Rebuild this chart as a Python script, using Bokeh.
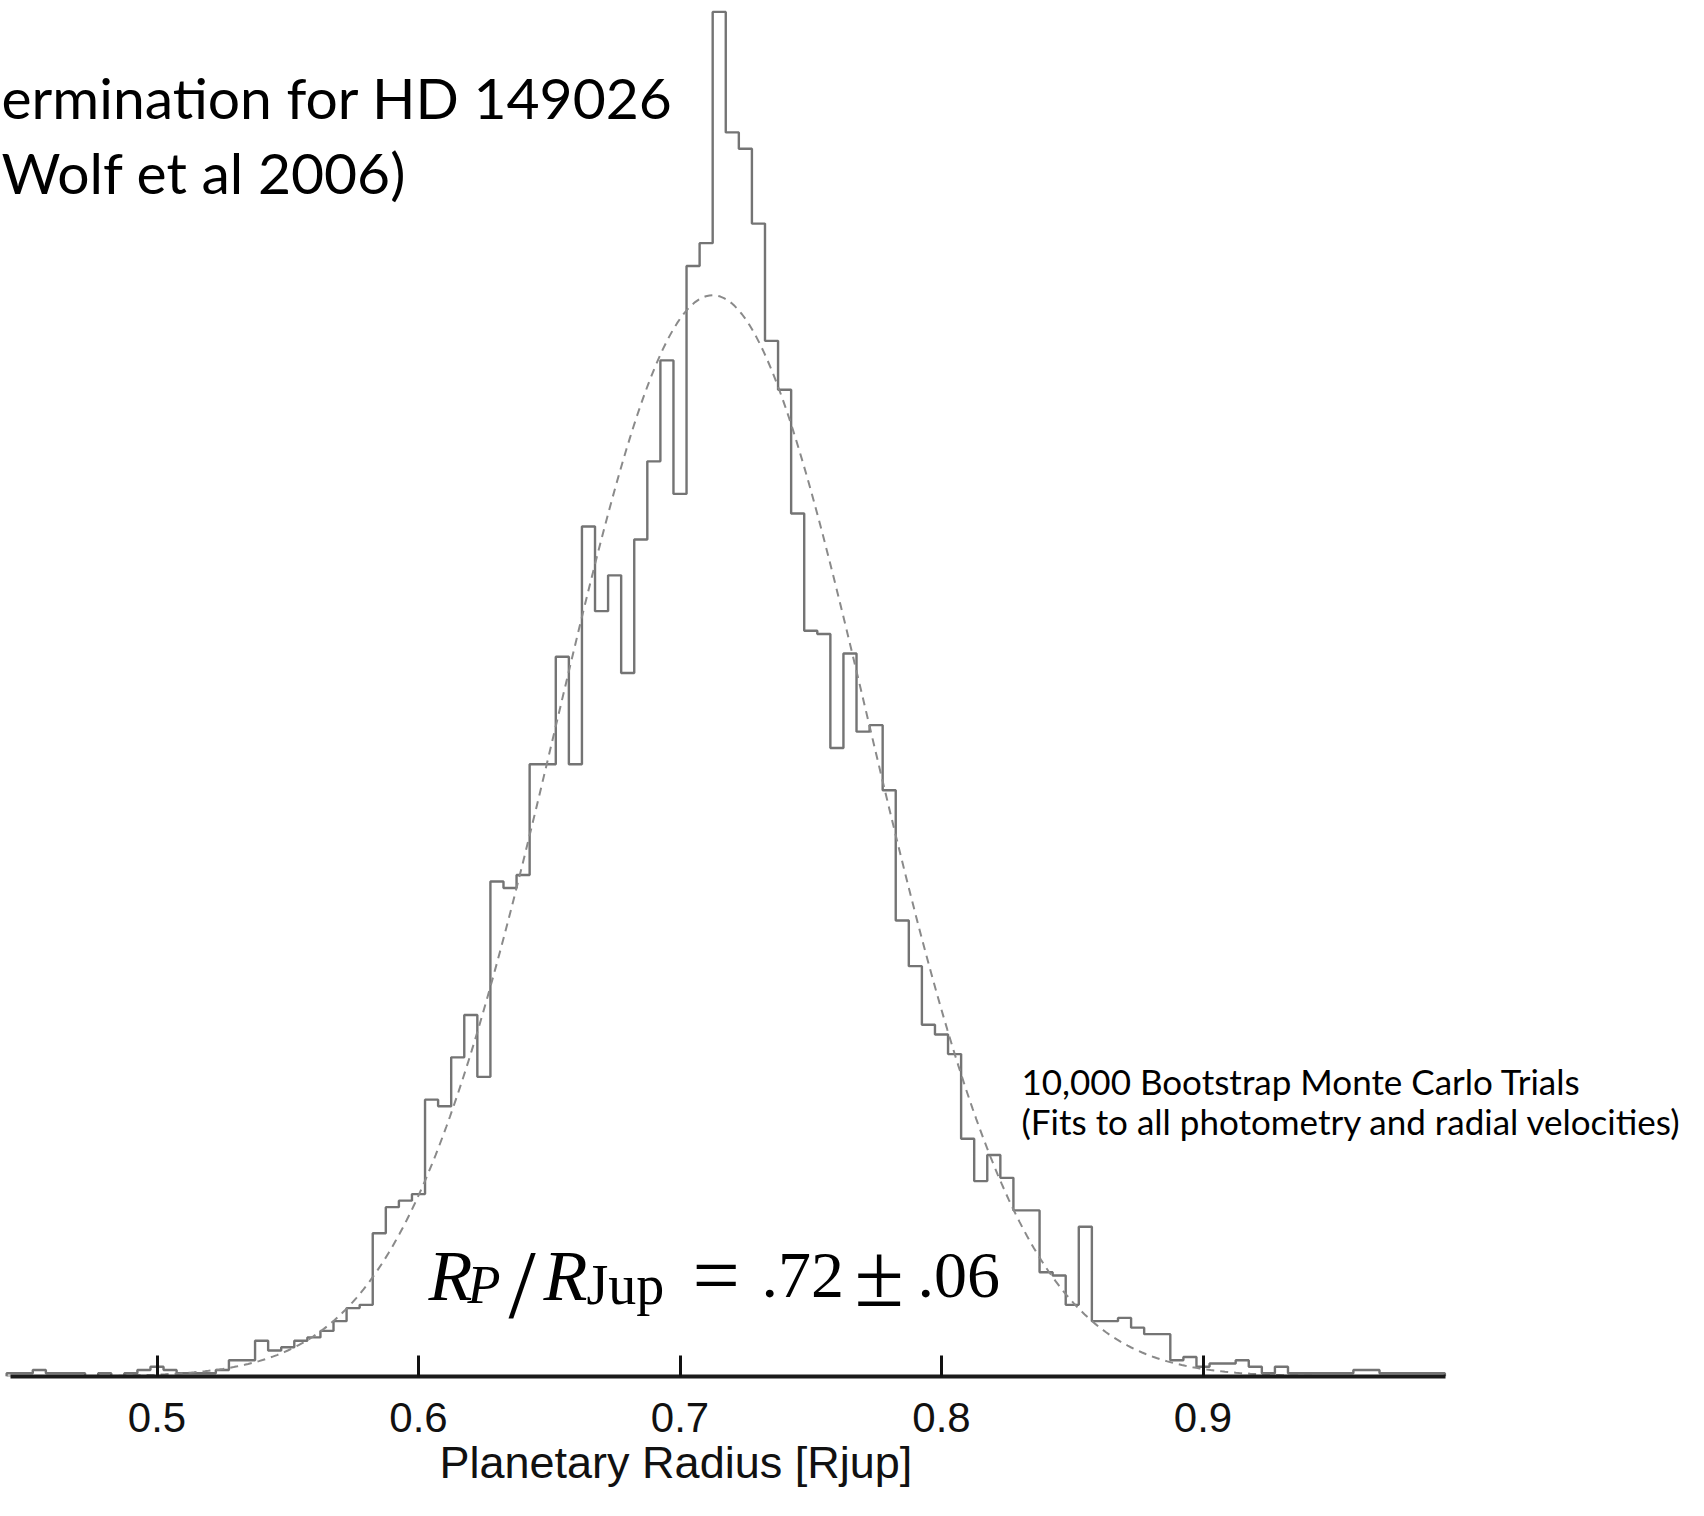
import numpy as np
from bokeh.plotting import figure
from bokeh.models import Label, FixedTicker, Range1d, Title
from bokeh.embed import file_html
from bokeh.resources import INLINE

# ---- data ----
bin_start = 0.4425          # left edge of first bin (Rjup)
bin_width = 0.005           # bin width (Rjup)
counts = [
    1, 1, 2, 1, 1, 1, 0, 1, 0, 1,          # 0.445 - 0.490
    2, 3, 2, 1, 1, 1, 2, 5, 5, 11,         # 0.495 - 0.540
    8, 9, 11, 12, 14, 17, 21, 22, 44, 52,  # 0.545 - 0.590
    54, 56, 85, 83, 98, 111, 92, 152, 150, 154,   # 0.595 - 0.640
    188, 188, 221, 188, 261, 235, 246, 216, 257, 281,  # 0.645 - 0.690
    312, 271, 341, 348, 419, 382, 377, 354, 318, 303,  # 0.695 - 0.740
    265, 229, 228, 193, 222, 198, 200, 180, 140, 126,  # 0.745 - 0.790
    108, 105, 99, 73, 60, 68, 61, 51, 51, 32,          # 0.795 - 0.840
    31, 22, 46, 17, 17, 18, 15, 13, 13, 5,             # 0.845 - 0.890
    6, 3, 4, 4, 5, 3, 1, 3, 1, 1,                      # 0.895 - 0.940
    1, 1, 1, 2, 2, 1, 1, 1, 1, 1,                      # 0.945 - 0.990
]
fit_mean = 0.7125
fit_sigma = 0.0595
fit_peak = 332.0

tick_values = [0.5, 0.6, 0.7, 0.8, 0.9]
tick_labels = ["0.5", "0.6", "0.7", "0.8", "0.9"]

title_lines = ["ermination for HD 149026", "Wolf et al 2006)"]
note_lines = ["10,000 Bootstrap Monte Carlo Trials",
              "(Fits to all photometry and radial velocities)"]
x_label = "Planetary Radius [Rjup]"

# ---- page geometry (page pixels) ----
PX_PER_UNIT = 2615.0     # pixels per 1 Rjup
X_AT_HALF = 164.5        # page x of 0.5 Rjup
BASE_Y = 1384.0          # page y of the axis line
PX_PER_COUNT = 3.2568


def vx(X):
    return 0.5 + (X - X_AT_HALF) / PX_PER_UNIT


def cy(Y):
    return (BASE_Y - Y) / PX_PER_COUNT


p = figure(frame_width=1688, frame_height=int(BASE_Y - 8),
           x_range=Range1d(vx(8), vx(1696)), y_range=Range1d(0, cy(8)),
           output_backend="svg", toolbar_location=None,
           min_border_left=0, min_border_right=0, min_border_top=0,
           min_border_bottom=0, y_axis_location=None)
p.xgrid.visible = False
p.ygrid.visible = False
p.outline_line_color = None
p.background_fill_color = "white"
p.border_fill_color = "white"

# histogram outline (step)
edges = bin_start + bin_width * np.arange(len(counts) + 1)
xs = np.repeat(edges, 2)
ys = np.concatenate([[0], np.repeat(counts, 2), [0]])
p.line(xs, ys, line_color="#747474", line_width=2.4)

# gaussian fit (dashed)
gx = np.linspace(edges[0], edges[-1], 400)
gy = fit_peak * np.exp(-0.5 * ((gx - fit_mean) / fit_sigma) ** 2)
p.line(gx, gy, line_color="#8a8a8a", line_width=2, line_dash="8 6")

# axis
ax = p.xaxis[0]
ax.bounds = (vx(17.7), vx(1453))
ax.ticker = FixedTicker(ticks=tick_values)
ax.major_label_overrides = {v: s for v, s in zip(tick_values, tick_labels)}
ax.minor_tick_line_color = None
ax.major_tick_in = 21
ax.major_tick_out = 0
ax.major_tick_line_width = 3
ax.major_tick_line_color = "#111111"
ax.axis_line_width = 4
ax.axis_line_color = "#1a1a1a"
ax.major_label_text_font = "Liberation Sans"
ax.major_label_text_font_size = "42px"
ax.major_label_text_color = "#111111"
ax.major_label_standoff = 26

# axis title (placed as in the reference, centred under 0.7)
p.add_layout(Title(text=x_label, align="left", offset=439, standoff=0,
                   text_font="Liberation Sans", text_font_size="45px",
                   text_font_style="normal", text_color="#111111"), "below")


def add(text, X, Y, font, size, style="normal", align="left"):
    p.add_layout(Label(x=vx(X), y=cy(Y), text=text, text_font=font,
                       text_font_size=size, text_font_style=style,
                       text_align=align, text_baseline="alphabetic",
                       text_color="black"))


# slide title
add(title_lines[0], 9, 104, "Lato", "57px")
add(title_lines[1], 9, 179, "Lato", "57px")

# note
add(note_lines[0], 1029, 1088, "Lato", "35px")
add(note_lines[1], 1029, 1128, "Lato", "35px")

# formula  R_P / R_Jup = .72 ± .06
serif = "Liberation Serif"
add("R", 436, 1283, serif, "72px", "italic")
add("P", 475, 1292, serif, "54px", "italic")
add("/", 516, 1291, serif, "98px")
add("R", 551, 1283, serif, "72px", "italic")
add("Jup", 594, 1292, serif, "56px")
add("=", 700, 1283, serif, "84px")
add(".72", 769, 1283, serif, "66px")
add("\u00b1", 862, 1283, serif, "90px")
add(".06", 925, 1283, serif, "66px")

open("out.html", "w").write(file_html(p, INLINE))
